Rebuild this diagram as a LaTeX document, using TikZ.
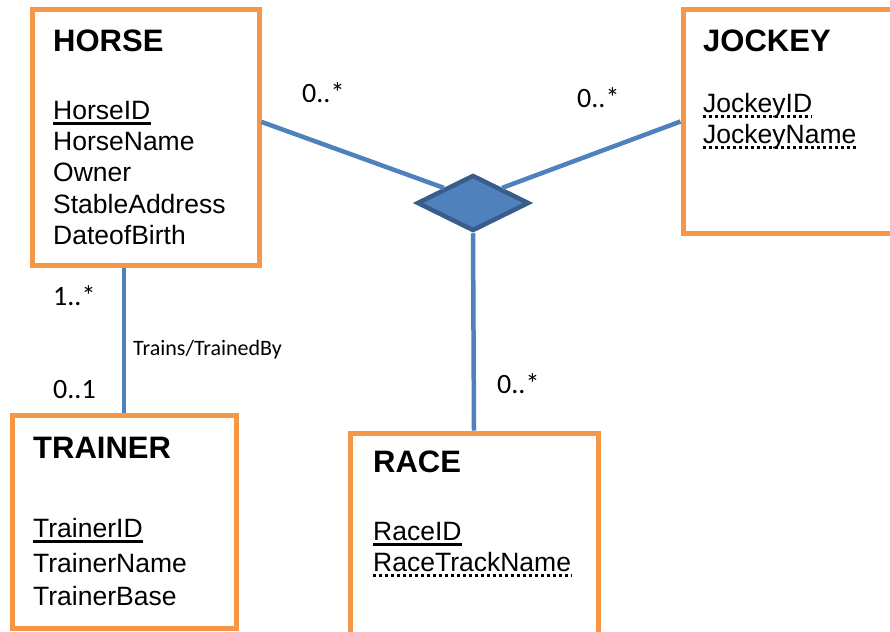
\documentclass[tikz,border=0pt]{standalone}
\usepackage{fontspec}
\setmainfont{Liberation Sans}
\newfontfamily\calfont{Carlito}
\usetikzlibrary{shapes.geometric,calc}
\definecolor{eorange}{HTML}{F79646}
\definecolor{eblue}{HTML}{4F81BD}
\definecolor{edark}{HTML}{385D8A}
\begin{document}
\begin{tikzpicture}[x=1pt,y=-1pt,
  entity/.style={draw=eorange,line width=5pt,rectangle,inner sep=0pt,fill=white},
  etitle/.style={anchor=base west,inner sep=0pt,font=\fontsize{31}{36}\selectfont\bfseries},
  attr/.style={anchor=base west,inner sep=0pt,font=\fontsize{26.5}{30}\selectfont},
  mult/.style={anchor=base west,inner sep=0pt,font=\calfont\fontsize{28}{32}\selectfont},
  link/.style={draw=eblue,line width=4.5pt},
  pkline/.style={line width=3pt},
  dkline/.style={line width=3pt,dash pattern=on 3pt off 3pt}]
\fill[white] (0,0) rectangle (890,631);
\useasboundingbox (0,0) rectangle (890,631);
% entities
\node[entity,minimum width=227pt,minimum height=255pt] (horse) at (145.5,137.5) {};
\node[entity,minimum width=210pt,minimum height=223pt] (jockey) at (788,121.5) {};
\node[entity,minimum width=224pt,minimum height=213pt] (trainer) at (124,521.5) {};
\node[entity,minimum width=248pt,minimum height=227pt] (race) at (474,546.5) {};
% relationship
\node[diamond,draw=edark,fill=eblue,line width=4.5pt,minimum width=112pt,minimum height=56pt,inner sep=0pt] (rel) at (473,203) {};
% connectors
\draw[link] ($(horse.north east)!0.44!(horse.south east)$) -- ($(rel.west)!0.5!(rel.north)$);
\draw[link] (jockey.west) -- ($(rel.east)!0.5!(rel.north)$);
\draw[link] (rel.south) -- (race.north);
\draw[link] (trainer.north) -- (trainer.north |- horse.south);
% HORSE
\node[etitle] (ht) at (53,52) {HORSE};
\node[attr] (h1) at (53,120) {HorseID};
\node[attr] (h2) at (53,151) {HorseName};
\node[attr] (h3) at (53,182) {Owner};
\node[attr] (h4) at (53,213) {StableAddress};
\node[attr] (h5) at (53,244) {DateofBirth};
\draw[pkline] ([yshift=-4pt]h1.base west) -- ([yshift=-4pt]h1.base east);
% JOCKEY
\node[etitle] (jt) at (703,52) {JOCKEY};
\node[attr] (j1) at (703,113) {JockeyID};
\node[attr] (j2) at (703,144) {JockeyName};
\draw[dkline] ([yshift=-4pt]j1.base west) -- ([yshift=-4pt]j1.base east);
\draw[dkline] ([yshift=-4pt]j2.base west) -- ([yshift=-4pt]j2.base east);
% TRAINER
\node[etitle] (tt) at (33,458) {TRAINER};
\node[attr] (t1) at (33,537) {TrainerID};
\node[attr] (t2) at (33,572) {TrainerName};
\node[attr] (t3) at (33,605) {TrainerBase};
\draw[pkline] ([yshift=-4pt]t1.base west) -- ([yshift=-4pt]t1.base east);
% RACE
\node[etitle] (rt) at (373,472) {RACE};
\node[attr] (r1) at (373,540) {RaceID};
\node[attr] (r2) at (373,571) {RaceTrackName};
\draw[pkline] ([yshift=-4pt]r1.base west) -- ([yshift=-4pt]r1.base east);
\draw[dkline] ([yshift=-4pt]r2.base west) -- ([yshift=-4pt]r2.base east);
% multiplicities
\node[mult] (m1) at (302,103) {0..*};
\node[mult] (m2) at (577,108) {0..*};
\node[mult] (m3) at (497,393) {0..*};
\node[mult] (m4) at (53,305) {1..*};
\node[mult] (m5) at (53,398) {0..1};
\node[anchor=base west,inner sep=0pt,font=\calfont\fontsize{22}{26}\selectfont] (rl) at (133,355) {Trains/TrainedBy};
\end{tikzpicture}
\end{document}
